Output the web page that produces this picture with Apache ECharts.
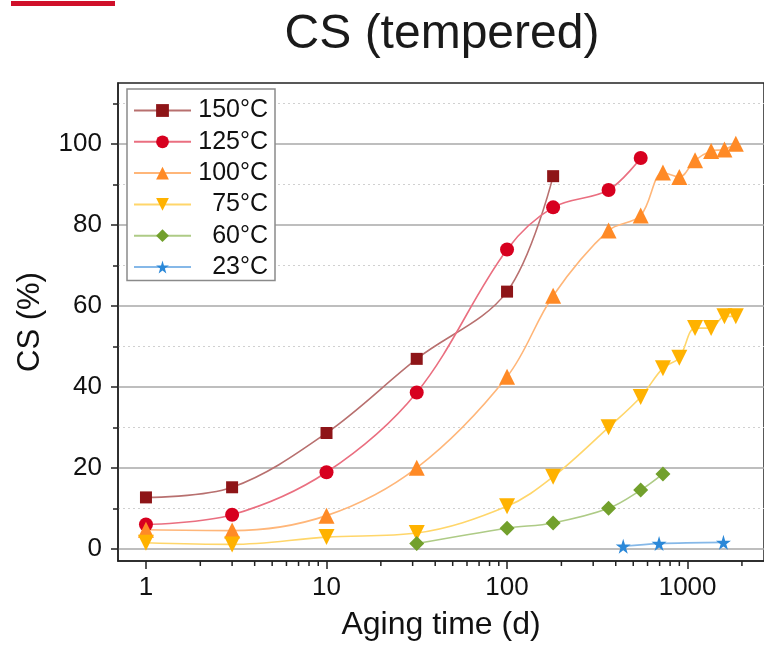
<!DOCTYPE html>
<html><head><meta charset="utf-8">
<script src="https://cdn.jsdelivr.net/npm/echarts@6/dist/echarts.min.js"></script>
<style>html,body{margin:0;padding:0;background:#fff}#c{width:764px;height:646px}</style>
</head><body><div id="c"></div>
<script>
// ---- data ----
const days = [1, 3, 10, 31.6, 100, 180, 365, 550, 730, 900, 1100, 1350, 1600, 1850];
const cs150 = [12.7, 15.2, 28.6, 46.9, 63.5, 92.0];
const cs125 = [6.0, 8.4, 18.9, 38.6, 73.9, 84.3, 88.6, 96.5];
const cs100 = [4.7, 4.5, 8.2, 20.0, 42.5, 62.5, 78.6, 82.3, 92.9, 91.8, 95.9, 98.2, 98.6, 100.0];
const cs75  = [1.5, 1.1, 2.9, 3.9, 10.5, 17.8, 30.0, 37.5, 44.6, 47.2, 54.5, 54.5, 57.4, 57.4];
const days60 = [31.6, 100, 180, 365, 550, 730];
const cs60  = [1.3, 5.1, 6.4, 10.0, 14.5, 18.5];
const days23 = [440, 695, 1580];
const cs23  = [0.66, 1.3, 1.6];
const seriesNames = ['150°C', '125°C', '100°C', '75°C', '60°C', '23°C'];
const xTickLabels = [1, 10, 100, 1000];
const xMinorTicks = [2, 3, 4, 5, 6, 7, 8, 9, 20, 30, 40, 50, 60, 70, 80, 90, 200, 300, 400, 500, 600, 700, 800, 900, 2000];
const yTickLabels = [0, 20, 40, 60, 80, 100];
const yMinorTicks = [10, 30, 50, 70, 90, 110];

const X_MIN = 0.7, X_MAX = 2650, Y_MIN = -3, Y_MAX = 115;
const FONT = '"Liberation Sans", Arial, sans-serif';

function pairs(xs, ys) { return ys.map((v, i) => [xs[i], v]); }

const STAR = 'path://M50,0 L61,35 L98,35 L68,57 L79,91 L50,70 L21,91 L32,57 L2,35 L39,35 Z';
const DIAMOND = 'path://M1,0 L2,1 L1,2 L0,1 Z';
const DOWN_TRI = 'path://M0,0 L2,0 L1,1.8 Z';

const styles = [
  { data: pairs(days, cs150), marker: '#8e1518', line: '#b8706f', symbol: 'rect', size: 12 },
  { data: pairs(days, cs125), marker: '#d7001f', line: '#ea6f80', symbol: 'circle', size: 14 },
  { data: pairs(days, cs100), marker: '#ff8a26', line: '#ffb679', symbol: 'triangle', size: 16 },
  { data: pairs(days, cs75),  marker: '#ffb200', line: '#ffd66a', symbol: DOWN_TRI, size: 16 },
  { data: pairs(days60, cs60), marker: '#72a02c', line: '#aecb86', symbol: DIAMOND, size: 15 },
  { data: pairs(days23, cs23), marker: '#2b88d8', line: '#85b8e8', symbol: STAR, size: 15 }
];

const series = styles.map((s, i) => ({
  name: seriesNames[i],
  type: 'line',
  data: s.data,
  smooth: 0.35,
  symbol: s.symbol,
  symbolSize: s.size,
  showSymbol: true,
  itemStyle: { color: s.marker, borderWidth: 0 },
  lineStyle: { color: s.line, width: 1.6 },
  emphasis: { disabled: true },
  z: 3
}));

series.push({
  type: 'custom',
  name: 'minorTicks',
  silent: true,
  clip: false,
  data: xMinorTicks.map(v => [v, Y_MIN]),
  encode: { x: 0, y: 1 },
  renderItem: function (params, api) {
    const p = api.coord([api.value(0), api.value(1)]);
    return { type: 'line', shape: { x1: p[0], y1: p[1], x2: p[0], y2: p[1] + 5 },
      style: { stroke: '#222', lineWidth: 1.5 } };
  },
  z: 5
});

const chart = echarts.init(document.getElementById('c'), null, { renderer: 'canvas' });
chart.setOption({
  animation: false,
  backgroundColor: '#ffffff',
  title: {
    text: 'CS (tempered)', left: 437, top: 6, textAlign: 'center',
    textStyle: { fontFamily: FONT, fontSize: 48, fontWeight: 'normal', color: '#1a1a1a' }
  },
  graphic: [{ type: 'rect', left: 11, top: 1, shape: { width: 104, height: 5 }, style: { fill: '#d0102a' } }],
  grid: { left: 118, right: -6, top: 83, bottom: 81, show: true, borderColor: '#222', borderWidth: 1.5, containLabel: false },
  legend: {
    data: seriesNames,
    orient: 'vertical', left: 127, top: 89,
    itemWidth: 57, itemHeight: 16, itemGap: 6.3,
    padding: [9, 7, 1, 6],
    borderColor: '#8a8a8a', borderWidth: 1.5, backgroundColor: '#fff',
    selectedMode: false,
    formatter: function (n) { return '{t|' + n + '}'; },
    textStyle: { fontFamily: FONT, fontSize: 25, color: '#111',
      rich: { t: { fontFamily: FONT, fontSize: 25, color: '#111', width: 72, align: 'right' } } }
  },
  xAxis: {
    type: 'log', logBase: 10, min: X_MIN, max: X_MAX,
    name: 'Aging time (d)', nameLocation: 'middle', nameGap: 48,
    nameTextStyle: { fontFamily: FONT, fontSize: 32, color: '#111' },
    axisLine: { show: true, onZero: false, lineStyle: { color: '#222', width: 1.5 } },
    axisTick: { show: true, customValues: xTickLabels, length: 8, lineStyle: { color: '#222', width: 1.5 } },
    axisLabel: { customValues: xTickLabels, margin: 14, fontFamily: FONT, fontSize: 26, color: '#111',
      formatter: function (v) { return String(Math.round(v)); } },
    splitLine: { show: false }, minorTick: { show: false }
  },
  yAxis: [{
    type: 'value', min: Y_MIN, max: Y_MAX,
    name: 'CS (%)', nameLocation: 'middle', nameGap: 72, nameRotate: 90,
    nameTextStyle: { fontFamily: FONT, fontSize: 31, color: '#111' },
    axisLine: { show: true, lineStyle: { color: '#222', width: 1.5 } },
    axisTick: { show: true, customValues: yTickLabels, length: 7, lineStyle: { color: '#222', width: 1.5 } },
    axisLabel: { customValues: yTickLabels, margin: 16, fontFamily: FONT, fontSize: 26, color: '#111' },
    splitLine: { show: true, lineStyle: { color: '#a8a8a8', width: 1.5 } },
    minorTick: { show: false }, minorSplitLine: { show: false }
  }, {
    type: 'value', min: Y_MIN, max: Y_MAX, position: 'left', offset: 0,
    axisLine: { show: false },
    axisTick: { show: true, customValues: yMinorTicks, length: 5, lineStyle: { color: '#222', width: 1.5 } },
    axisLabel: { show: false, customValues: yMinorTicks },
    splitLine: { show: true, lineStyle: { color: '#d0d0d0', width: 1.2, type: [2, 3] } }
  }],
  series: series
});
</script></body></html>
